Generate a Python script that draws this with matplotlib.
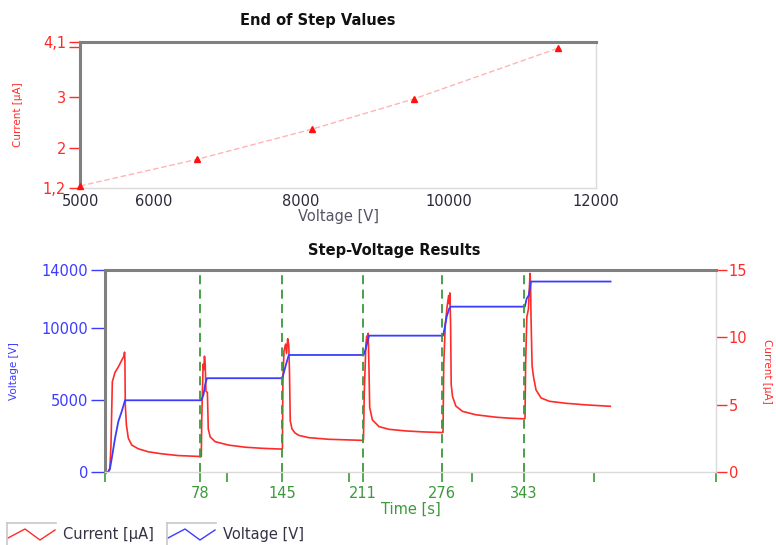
import matplotlib
matplotlib.use("Agg")
import matplotlib.pyplot as plt
from matplotlib.ticker import FixedLocator, NullFormatter

# ---------------- data ----------------
# End of step values (top chart)
eos_voltage = [5000, 6590, 8150, 9530, 11490]
eos_current = [1.24, 1.77, 2.37, 2.97, 3.98]

# Step-voltage results (bottom chart)
step_times = [78, 145, 211, 276, 343]

volt_t = [0, 2.7, 4.0, 5.5, 8.2, 10.9, 13.7, 16.4, 78.5, 79.5, 80.7, 82.0, 83.4,
          145.2, 146.3, 148.2, 150.4, 211.7, 213.3, 214.7, 216.0, 276.6, 278.1,
          279.5, 281.6, 283.0, 343.6, 345.1, 346.8, 348.6, 413.7]
volt_v = [0, 0, 200, 930, 2330, 3500, 4200, 4970, 4970, 5100, 5400, 6070, 6500,
          6500, 6880, 7470, 8110, 8110, 8520, 8980, 9450, 9450, 10030,
          10730, 11320, 11460, 11460, 12020, 12250, 13200, 13200]

curr_t = [0, 2.5, 4.0, 4.9, 6.0, 8.2, 10.9, 13.7, 15.5, 16.0, 16.3, 16.6, 17.5, 19.1,
          21.9, 27.3, 35.5, 46.5, 60.1, 78.5,
          78.8, 79.2, 79.6, 80.3, 80.9, 81.4, 82.0, 82.6, 83.8, 84.5, 86.1, 90.2,
          101, 114.8, 128.5, 144.8,
          145.2, 145.6, 146.5, 147.8, 148.6, 149.5, 150.4, 151.0, 151.6, 153.0,
          155.5, 158.6, 166.8, 183, 200, 210.9,
          211.5, 212.2, 213.5, 214.2, 214.8, 215.4, 216.0, 216.6, 218.8, 224.2,
          232.4, 246, 259.8, 276.0,
          276.6, 277.2, 278.5, 280.0, 281.2, 281.7, 282.2, 282.8, 283.3, 284.4,
          287.1, 292.6, 303.5, 319.9, 330, 342.9,
          343.7, 344.2, 345.2, 346.5, 347.2, 347.8, 348.3, 348.6, 349.5, 350.6,
          352.7, 356.8, 363.7, 377.4, 385, 391, 400, 413.5]
curr_i = [0, 0, 0.3, 2.0, 6.7, 7.4, 7.8, 8.3, 8.6, 8.9, 8.3, 5.0, 3.5, 2.5,
          2.0, 1.72, 1.5, 1.35, 1.22, 1.15,
          1.15, 4.0, 5.5, 8.0, 7.6, 8.6, 8.0, 6.0, 5.9, 3.2, 2.6, 2.25,
          2.0, 1.84, 1.76, 1.7,
          1.72, 7.0, 9.0, 9.5, 8.8, 9.9, 9.4, 7.3, 3.8, 3.2,
          2.9, 2.72, 2.55, 2.43, 2.38, 2.35,
          2.38, 6.0, 9.5, 10.1, 9.6, 10.3, 7.8, 4.8, 3.87, 3.37,
          3.17, 3.05, 2.98, 2.93,
          2.95, 8.0, 11.0, 12.3, 13.1, 12.5, 13.3, 11.0, 6.5, 5.6,
          4.9, 4.5, 4.25, 4.07, 4.0, 3.95,
          3.95, 8.0, 11.5, 12.1, 13.5, 14.75, 13.8, 11.6, 7.9, 7.1,
          6.1, 5.5, 5.25, 5.1, 5.05, 5.0, 4.95, 4.88]

# ---------------- style ----------------
RED = "#ff2b2b"
BLUE = "#3c3cff"
GREEN = "#3a9a3a"
DARK = "#2a2a3a"
SP_DARK = "#808080"
SP_LIGHT = "#dadada"
FS = 10.5
plt.rcParams['font.family'] = ['DejaVu Sans']

W, H = 776, 545
fig = plt.figure(figsize=(W / 100, H / 100), dpi=100)


def box(l, t, r, b):
    return [l / W, 1 - b / H, (r - l) / W, (b - t) / H]


def style_spines(ax):
    ax.spines['top'].set_color(SP_DARK)
    ax.spines['top'].set_linewidth(2.2)
    ax.spines['left'].set_color(SP_DARK)
    ax.spines['left'].set_linewidth(2.2)
    ax.spines['right'].set_color(SP_LIGHT)
    ax.spines['right'].set_linewidth(1.0)
    ax.spines['bottom'].set_color(SP_LIGHT)
    ax.spines['bottom'].set_linewidth(1.0)


# ---------------- top chart ----------------
ax1 = fig.add_axes(box(80, 42, 596, 188))
style_spines(ax1)
ax1.plot(eos_voltage, eos_current, color="#ffb4b4", lw=1.0, ls=(0, (4, 2)),
         zorder=2, clip_on=False)
ax1.plot(eos_voltage, eos_current, ls='none', marker='^', ms=5, color="#ff1010",
         zorder=3, clip_on=False)
ax1.set_xlim(5000, 12000)
ax1.set_ylim(1.2, 4.1)
ax1.set_xticks([5000, 6000, 8000, 10000, 12000])
ax1.tick_params(axis='x', length=0, labelsize=FS, labelcolor=DARK, pad=4)
ax1.xaxis.set_minor_locator(FixedLocator([5000]))
ax1.tick_params(axis='x', which='minor', length=6, color=DARK, width=1)
ax1.set_yticks([1.2, 2, 3, 4.1])
ax1.set_yticklabels(["1,2", "2", "3", "4,1"])
ax1.yaxis.set_minor_locator(FixedLocator([4.0]))
ax1.yaxis.set_minor_formatter(NullFormatter())
ax1.tick_params(axis='y', which='both', length=8, color=RED, labelcolor=RED,
                labelsize=FS, width=1, pad=2)
ax1.set_xlabel("Voltage [V]", fontsize=FS, color="#555566", labelpad=0)
ax1.set_ylabel("Current [µA]", fontsize=7.5, color=RED, labelpad=14)
fig.text(318 / W, 1 - 20 / H, "End of Step Values", ha='center', va='center',
         fontsize=10.5, fontweight='bold', color="#111111")

# ---------------- bottom chart ----------------
axv = fig.add_axes(box(105, 270, 716, 472))
axc = axv.twinx()
axv.set_zorder(axc.get_zorder() + 1)
axv.patch.set_visible(False)
style_spines(axv)
for s in axc.spines.values():
    s.set_visible(False)

axc.plot(curr_t, curr_i, color=RED, lw=1.2)
axv.plot(volt_t, volt_v, color=BLUE, lw=1.3)
for t in step_times:
    axv.axvline(t, color=GREEN, lw=1.3, ls=(0, (5, 3)), ymax=0.985)

axv.set_xlim(0, 500)
axv.set_ylim(0, 14000)
axc.set_ylim(0, 15)

axv.set_xticks(step_times)
axv.xaxis.set_minor_locator(FixedLocator([0, 100, 200, 300, 400, 500]))
axv.tick_params(axis='x', which='both', length=7, color=GREEN, labelcolor=GREEN,
                labelsize=FS, width=1.2, pad=3)
axv.set_yticks([0, 5000, 10000, 14000])
axv.tick_params(axis='y', length=10, color=BLUE, labelcolor=BLUE, labelsize=FS,
                width=1, pad=2)
axc.set_yticks([0, 5, 10, 15])
axc.tick_params(axis='y', length=8, color=RED, labelcolor=RED, labelsize=FS,
                width=1, pad=1)
axv.set_xlabel("Time [s]", fontsize=FS, color=GREEN, labelpad=1)
axv.set_ylabel("Voltage [V]", fontsize=7.5, color=BLUE, labelpad=16)
axc.set_ylabel("Current [µA]", fontsize=7.5, color=RED, rotation=270,
               labelpad=18)
fig.text(394 / W, 1 - 250 / H, "Step-Voltage Results", ha='center', va='center',
         fontsize=10.5, fontweight='bold', color="#111111")

# ---------------- legend ----------------
legend_names = ["Current [µA]", "Voltage [V]"]
legend_colors = [RED, BLUE]
legend_left = [7, 167]
icon_x = [1, 18, 33, 48]
icon_y = [7, 16, 5, 15]
for name, col, left in zip(legend_names, legend_colors, legend_left):
    la = fig.add_axes(box(left, 523, left + 49, 545))
    la.set_xlim(0, 49)
    la.set_ylim(0, 22)
    la.set_xticks([])
    la.set_yticks([])
    la.patch.set_visible(False)
    for k in ['right', 'bottom']:
        la.spines[k].set_visible(False)
    for k in ['top', 'left']:
        la.spines[k].set_color("#c8c8c8")
        la.spines[k].set_linewidth(1.2)
    la.plot(icon_x, icon_y, color=col, lw=1.0)
    fig.text((left + 56) / W, 1 - 535 / H, name, ha='left', va='center',
             fontsize=FS, color="#333344")

fig.savefig("out.png", dpi=100)
